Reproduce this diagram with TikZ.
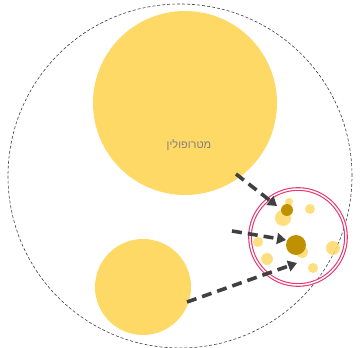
\documentclass[tikz,border=0pt]{standalone}
\usepackage{fontspec}
\newfontfamily\hebfont[Script=Hebrew]{Liberation Sans}
\TeXXeTstate=1
\usetikzlibrary{arrows.meta}
\definecolor{lightgold}{HTML}{FFD966}
\definecolor{darkgold}{HTML}{BF9000}
\definecolor{ringpink}{HTML}{E8336E}
\definecolor{arrowgray}{HTML}{404040}
\tikzset{
  region/.style={circle, fill=lightgold, inner sep=0pt, minimum size=#1},
  lightdot/.style={circle, fill=lightgold, fill opacity=0.85, inner sep=0pt, minimum size=#1},
  darkdot/.style={circle, fill=darkgold, inner sep=0pt, minimum size=#1},
  flow/.style={draw=arrowgray, line width=3.6pt, dash pattern=on 10pt off 6pt, -{Triangle[length=9pt,width=11pt]}},
}
\begin{document}
\begin{tikzpicture}[x=1pt,y=-1pt]
\useasboundingbox (0,0) rectangle (360,348);
\node[circle, draw=black!75, dash pattern=on 3pt off 2pt, line width=0.6pt, inner sep=0pt, minimum size=344pt] (outer) at (180,176) {};
\node[region=184pt] (metro) at (185,103) {};
\node[text=black!50, font=\hebfont\fontsize{11}{13}\selectfont] (label) at (189,145) {\beginR מטרופולין\endR};
\node[region=96pt] (town) at (143,287) {};
\node[circle, draw=ringpink, double=white, double distance=1.5pt, line width=1.1pt, inner sep=0pt, minimum size=96pt] (ring) at (298,237) {};
\node[lightdot=8pt] (d1) at (289,202) {};
\node[lightdot=16pt] (d3) at (283,218) {};
\node[darkdot=12pt] (d2) at (287,210) {};
\node[lightdot=10pt] (d4) at (310,209) {};
\node[lightdot=10pt] (d5) at (258,242) {};
\node[lightdot=12pt] (d7) at (302,252) {};
\node[darkdot=20pt] (d6) at (296,245) {};
\node[lightdot=12pt] (d8) at (267,259) {};
\node[lightdot=14pt] (d9) at (333,248) {};
\node[lightdot=10pt] (d10) at (313,268) {};
\coordinate (s1) at (236,174);
\coordinate (t1) at (277,206);
\coordinate (s2) at (232,231);
\coordinate (t2) at (286,240);
\coordinate (s3) at (187,302);
\coordinate (t3) at (297,263);
\draw[flow] (s1) -- (t1);
\draw[flow] (s2) -- (t2);
\draw[flow] (s3) -- (t3);
\end{tikzpicture}
\end{document}
